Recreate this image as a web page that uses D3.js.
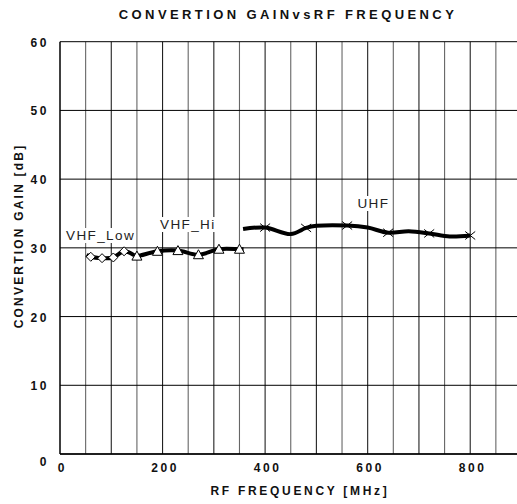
<!DOCTYPE html>
<html>
<head>
<meta charset="utf-8">
<script src="https://cdn.jsdelivr.net/npm/d3@7"></script>
<style>
  body { margin: 0; background: #fff; }
  text { font-family: "Liberation Sans", Arial, sans-serif; }
</style>
</head>
<body>
<div id="chart"></div>
<script>
// data
const xTicks = [0, 200, 400, 600, 800];
const yTicks = [0, 10, 20, 30, 40, 50, 60];

const vhfLowFreq = [52, 60, 82, 104, 125, 145];
const vhfLowGain = [29.0, 28.7, 28.5, 28.6, 29.5, 28.9];
const vhfLowMarkFreq = [60, 82, 104, 125];
const vhfLowMarkGain = [28.7, 28.5, 28.6, 29.5];

const vhfHiFreq = [145, 150, 190, 230, 270, 310, 350, 358];
const vhfHiGain = [28.9, 28.8, 29.5, 29.6, 29.0, 29.8, 29.8, 29.8];
const vhfHiMarkFreq = [150, 190, 230, 270, 310, 350];
const vhfHiMarkGain = [28.8, 29.5, 29.6, 29.0, 29.8, 29.8];

const uhfFreq = [357, 400, 450, 480, 500, 560, 600, 640, 680, 720, 760, 800];
const uhfGain = [32.75, 32.95, 32.0, 32.9, 33.2, 33.25, 32.95, 32.2, 32.4, 32.1, 31.65, 31.8];
const uhfMarkFreq = [400, 480, 560, 640, 720, 800];
const uhfMarkGain = [32.95, 32.9, 33.25, 32.2, 32.1, 31.8];

const width = 517;
const height = 504;
const plotLeft = 60, plotTop = 41.7, plotBottom = 454;

const svg = d3.select("#chart").append("svg")
  .attr("width", width)
  .attr("height", height);

const x = d3.scaleLinear().domain([0, 900]).range([plotLeft, 521.5]);
const y = d3.scaleLinear().domain([0, 60]).range([plotBottom, plotTop]);

// grid: verticals every 50 MHz, horizontals every 10 dB
svg.append("g")
  .selectAll("line")
  .data(d3.range(50, 900, 50))
  .join("line")
  .attr("x1", d => x(d)).attr("x2", d => x(d))
  .attr("y1", plotTop).attr("y2", plotBottom)
  .attr("stroke", d => d % 100 === 0 ? "#222" : "#666")
  .attr("stroke-width", 1.1);

svg.append("g")
  .selectAll("line")
  .data(yTicks)
  .join("line")
  .attr("x1", plotLeft).attr("x2", width)
  .attr("y1", d => y(d)).attr("y2", d => y(d))
  .attr("stroke", "#000")
  .attr("stroke-width", 1);

svg.append("line")
  .attr("x1", plotLeft).attr("x2", plotLeft)
  .attr("y1", plotTop).attr("y2", plotBottom)
  .attr("stroke", "#000").attr("stroke-width", 1.5);
svg.append("line")
  .attr("x1", plotLeft).attr("x2", width)
  .attr("y1", plotBottom).attr("y2", plotBottom)
  .attr("stroke", "#000").attr("stroke-width", 1.5);

// tick labels
svg.append("g")
  .selectAll("text")
  .data(yTicks)
  .join("text")
  .attr("x", 49)
  .attr("y", d => d === 0 ? 466 : y(d) + 5)
  .attr("text-anchor", "end")
  .attr("font-size", 12)
  .attr("font-weight", "bold")
  .attr("letter-spacing", 2.6)
  .attr("fill", "#111")
  .text(d => d);

svg.append("g")
  .selectAll("text")
  .data(xTicks)
  .join("text")
  .attr("x", d => x(d) + 2.5)
  .attr("y", 472)
  .attr("text-anchor", "middle")
  .attr("font-size", 12)
  .attr("font-weight", "bold")
  .attr("letter-spacing", 2.6)
  .attr("fill", "#111")
  .text(d => d);

// titles
svg.append("text")
  .attr("x", 288).attr("y", 19)
  .attr("text-anchor", "middle")
  .attr("font-size", 13).attr("font-weight", "bold")
  .attr("letter-spacing", 3.4)
  .attr("fill", "#111")
  .text("CONVERTION GAINvsRF FREQUENCY");

svg.append("text")
  .attr("x", 300).attr("y", 495)
  .attr("text-anchor", "middle")
  .attr("font-size", 12).attr("font-weight", "bold")
  .attr("letter-spacing", 2.7)
  .attr("fill", "#111")
  .text("RF FREQUENCY [MHz]");

svg.append("text")
  .attr("transform", "translate(23,236) rotate(-90)")
  .attr("text-anchor", "middle")
  .attr("font-size", 12).attr("font-weight", "bold")
  .attr("letter-spacing", 2.2)
  .attr("fill", "#111")
  .text("CONVERTION GAIN [dB]");

// series labels, with white backing over the grid
const labels = [
  { text: "VHF_Low", f: 11.7, g: 31.14 },
  { text: "VHF_Hi", f: 195, g: 32.74 },
  { text: "UHF", f: 580, g: 35.8 }
];
labels.forEach(l => {
  const t = svg.append("text")
    .attr("x", x(l.f)).attr("y", y(l.g))
    .attr("font-size", 13.5)
    .attr("letter-spacing", 1.4)
    .attr("fill", "#222")
    .text(l.text);
  const b = t.node().getBBox();
  svg.insert("rect", () => t.node())
    .attr("x", b.x - 2).attr("y", b.y)
    .attr("width", b.width + 2).attr("height", b.height)
    .attr("fill", "#fff");
});

// lines
const line = d3.line()
  .x(d => x(d[0]))
  .y(d => y(d[1]))
  .curve(d3.curveCatmullRom.alpha(0.5));

const series = [
  [vhfLowFreq, vhfLowGain],
  [vhfHiFreq, vhfHiGain],
  [uhfFreq, uhfGain]
];
series.forEach(([f, g]) => {
  svg.append("path")
    .datum(d3.zip(f, g))
    .attr("d", line)
    .attr("fill", "none")
    .attr("stroke", "#000")
    .attr("stroke-width", 4)
    .attr("stroke-linejoin", "round");
});

// markers
svg.append("g")
  .selectAll("path")
  .data(d3.zip(vhfLowMarkFreq, vhfLowMarkGain))
  .join("path")
  .attr("transform", d => `translate(${x(d[0])},${y(d[1])})`)
  .attr("d", "M0,-4.5L4.5,0L0,4.5L-4.5,0Z")
  .attr("fill", "#fff").attr("stroke", "#000").attr("stroke-width", 1);

svg.append("g")
  .selectAll("path")
  .data(d3.zip(vhfHiMarkFreq, vhfHiMarkGain))
  .join("path")
  .attr("transform", d => `translate(${x(d[0])},${y(d[1])})`)
  .attr("d", "M0,-5L5,4L-5,4Z")
  .attr("fill", "#fff").attr("stroke", "#000").attr("stroke-width", 1);

svg.append("g")
  .selectAll("path")
  .data(d3.zip(uhfMarkFreq, uhfMarkGain))
  .join("path")
  .attr("transform", d => `translate(${x(d[0])},${y(d[1])})`)
  .attr("d", "M-5,-4L5,4M-5,4L5,-4")
  .attr("fill", "none").attr("stroke", "#000").attr("stroke-width", 1);
</script>
</body>
</html>
